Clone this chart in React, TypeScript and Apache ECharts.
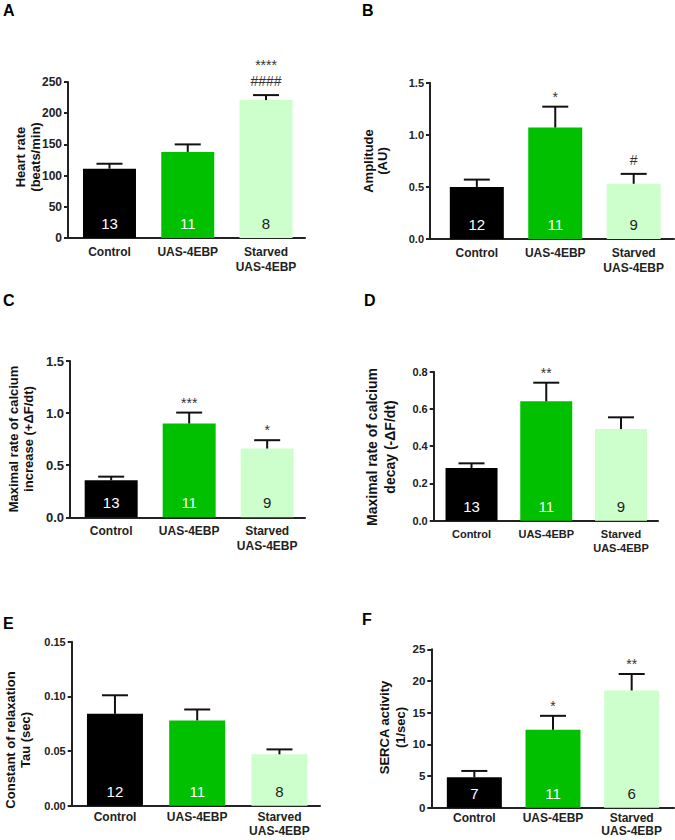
import React, { useEffect, useRef } from "react";
import * as echarts from "echarts";

// ---------- data ----------
const categories = ["Control", "UAS-4EBP", "Starved\nUAS-4EBP"];

const heartRate = [111, 138, 221];
const heartRateErr = [8, 12, 8];
const heartRateN = [13, 11, 8];
const heartRateSig = ["", "", "****\n####"];
const heartRateTicks = [0, 50, 100, 150, 200, 250];

const amplitude = [0.5, 1.07, 0.53];
const amplitudeErr = [0.07, 0.2, 0.095];
const amplitudeN = [12, 11, 9];
const amplitudeSig = ["", "*", "#"];
const amplitudeTicks = [0, 0.5, 1.0, 1.5];

const caIncrease = [0.355, 0.9, 0.66];
const caIncreaseErr = [0.035, 0.105, 0.08];
const caIncreaseN = [13, 11, 9];
const caIncreaseSig = ["", "***", "*"];
const caIncreaseTicks = [0, 0.5, 1.0, 1.5];

const caDecay = [0.283, 0.641, 0.492];
const caDecayErr = [0.025, 0.1, 0.063];
const caDecayN = [13, 11, 9];
const caDecaySig = ["", "**", ""];
const caDecayTicks = [0, 0.2, 0.4, 0.6, 0.8];

const tau = [0.084, 0.078, 0.047];
const tauErr = [0.017, 0.01, 0.0045];
const tauN = [12, 11, 8];
const tauSig = ["", "", ""];
const tauTicks = [0, 0.05, 0.1, 0.15];

const serca = [4.8, 12.3, 18.5];
const sercaErr = [1.0, 2.2, 2.6];
const sercaN = [7, 11, 6];
const sercaSig = ["", "*", "**"];
const sercaTicks = [0, 5, 10, 15, 20, 25];

// ---------- styles ----------
const FONT = "Arial, 'Liberation Sans', Helvetica, sans-serif";
const barColors = ["#000000", "#00c000", "#ccffcc"];
const nColors = ["#ffffff", "#ffffff", "#222222"];
const AXIS = "#222222";

type Panel = {
  letter: string;
  letterPos: [number, number];
  grid: { left: number; top: number; width: number; height: number };
  xMin: number;
  xMax: number;
  barWidth: number;
  ticks: number[];
  decimals: number;
  tickFont: number;
  catFont: number;
  catLH: number;
  catMargin: number;
  name: string;
  namePos: [number, number];
  nameLH: number;
  nameFont: number;
  values: number[];
  errs: number[];
  ns: number[];
  sig: string[];
};

const panels: Panel[] = [
  {
    letter: "A", letterPos: [3, 2.5],
    grid: { left: 68, top: 82, width: 237, height: 156 },
    xMin: -0.53, xMax: 2.498, barWidth: 53,
    ticks: heartRateTicks, decimals: 0, tickFont: 12, catFont: 12, catLH: 15, catMargin: 6,
    name: "Heart rate\n(beats/min)", namePos: [27.5, 157], nameLH: 15, nameFont: 13,
    values: heartRate, errs: heartRateErr, ns: heartRateN, sig: heartRateSig,
  },
  {
    letter: "B", letterPos: [362, 2.5],
    grid: { left: 430, top: 82.7, width: 244, height: 156.3 },
    xMin: -0.597, xMax: 2.514, barWidth: 54,
    ticks: amplitudeTicks, decimals: 1, tickFont: 11, catFont: 12, catLH: 15, catMargin: 6,
    name: "Amplitude\n(AU)", namePos: [375.5, 161], nameLH: 13.5, nameFont: 13,
    values: amplitude, errs: amplitudeErr, ns: amplitudeN, sig: amplitudeSig,
  },
  {
    letter: "C", letterPos: [3, 292],
    grid: { left: 70, top: 361, width: 235, height: 156.3 },
    xMin: -0.528, xMax: 2.485, barWidth: 53,
    ticks: caIncreaseTicks, decimals: 1, tickFont: 13, catFont: 12, catLH: 15, catMargin: 6,
    name: "Maximal rate of calcium\nincrease (+ΔF/dt)", namePos: [20.5, 439], nameLH: 15, nameFont: 13,
    values: caIncrease, errs: caIncreaseErr, ns: caIncreaseN, sig: caIncreaseSig,
  },
  {
    letter: "D", letterPos: [364, 292],
    grid: { left: 433.7, top: 371.7, width: 224.3, height: 149 },
    xMin: -0.506, xMax: 2.495, barWidth: 52,
    ticks: caDecayTicks, decimals: 1, tickFont: 11, catFont: 11, catLH: 14, catMargin: 6,
    name: "Maximal rate of calcium\ndecay (-ΔF/dt)", namePos: [381, 447], nameLH: 18, nameFont: 14,
    values: caDecay, errs: caDecayErr, ns: caDecayN, sig: caDecaySig,
  },
  {
    letter: "E", letterPos: [3, 615.5],
    grid: { left: 71.7, top: 641.7, width: 248.3, height: 164 },
    xMin: -0.526, xMax: 2.493, barWidth: 56,
    ticks: tauTicks, decimals: 2, tickFont: 11, catFont: 12, catLH: 13.5, catMargin: 5,
    name: "Constant of relaxation\nTau (sec)", namePos: [17.5, 740], nameLH: 15, nameFont: 13,
    values: tau, errs: tauErr, ns: tauN, sig: tauSig,
  },
  {
    letter: "F", letterPos: [362, 611.5],
    grid: { left: 431.3, top: 649.3, width: 242.7, height: 158.4 },
    xMin: -0.547, xMax: 2.538, barWidth: 55,
    ticks: sercaTicks, decimals: 0, tickFont: 11.5, catFont: 12, catLH: 13, catMargin: 4,
    name: "SERCA activity\n(1/sec)", namePos: [392, 727.5], nameLH: 16, nameFont: 13,
    values: serca, errs: sercaErr, ns: sercaN, sig: sercaSig,
  },
];

function buildOption() {
  const grids: any[] = [];
  const xAxes: any[] = [];
  const yAxes: any[] = [];
  const series: any[] = [];
  const graphics: any[] = [];

  panels.forEach((p, i) => {
    grids.push({ ...p.grid, containLabel: false, outerBoundsMode: "none" });
    xAxes.push({
      type: "value",
      gridIndex: i,
      min: p.xMin,
      max: p.xMax,
      splitLine: { show: false },
      axisTick: { show: false },
      axisLine: { show: true, onZero: false, lineStyle: { color: AXIS, width: 2 } },
      axisLabel: {
        show: true,
        customValues: [0, 1, 2],
        formatter: (v: number) => categories[Math.round(v)] ?? "",
        color: "#222",
        fontFamily: FONT,
        fontWeight: "bold",
        fontSize: p.catFont,
        lineHeight: p.catLH,
        margin: p.catMargin,
      },
    });
    const step = p.ticks[1] - p.ticks[0];
    yAxes.push({
      type: "value",
      gridIndex: i,
      min: p.ticks[0],
      max: p.ticks[p.ticks.length - 1],
      interval: step,
      splitLine: { show: false },
      axisLine: { show: true, onZero: false, lineStyle: { color: AXIS, width: 2 } },
      axisTick: { show: true, inside: false, length: 4, lineStyle: { color: AXIS, width: 2 } },
      axisLabel: {
        color: "#222",
        fontFamily: FONT,
        fontWeight: "bold",
        fontSize: p.tickFont,
        margin: 6,
        formatter: (v: number) => v.toFixed(p.decimals),
      },
    });

    series.push({
      type: "bar",
      xAxisIndex: i,
      yAxisIndex: i,
      barWidth: p.barWidth,
      data: p.values.map((v, k) => ({
        value: [k, v],
        itemStyle: { color: barColors[k] },
        label: { color: nColors[k] },
      })),
      label: {
        show: true,
        position: "insideBottom",
        distance: 7,
        fontFamily: FONT,
        fontSize: 15,
        formatter: (params: any) => String(p.ns[params.dataIndex]),
      },
      emphasis: { disabled: true },
    });

    series.push({
      type: "custom",
      xAxisIndex: i,
      yAxisIndex: i,
      clip: false,
      z: 5,
      encode: { x: 0, y: 1 },
      data: p.values.map((v, k) => [k, v, p.errs[k]]),
      renderItem: (params: any, api: any) => {
        const x = api.value(0);
        const v = api.value(1);
        const e = api.value(2);
        const p0 = api.coord([x, v]);
        const p1 = api.coord([x, v + e]);
        const children: any[] = [
          {
            type: "line",
            shape: { x1: p0[0], y1: p0[1], x2: p1[0], y2: p1[1] },
            style: { stroke: "#111", lineWidth: 2 },
          },
          {
            type: "line",
            shape: { x1: p1[0] - 13, y1: p1[1], x2: p1[0] + 13, y2: p1[1] },
            style: { stroke: "#111", lineWidth: 2 },
          },
        ];
        const s = p.sig[params.dataIndex];
        if (s) {
          const lines = s.split("\n");
          const last = lines[lines.length - 1];
          const gap = last.indexOf("#") >= 0 ? 6 : 2;
          children.push({
            type: "text",
            x: p1[0],
            y: p1[1] - gap,
            style: {
              text: s,
              fontFamily: FONT,
              fontSize: 14,
              lineHeight: 16,
              fill: "#333",
              align: "center",
              verticalAlign: "bottom",
              textAlign: "center",
              textVerticalAlign: "bottom",
            },
          });
        }
        return { type: "group", children };
      },
    });

    graphics.push({
      type: "text",
      x: p.letterPos[0],
      y: p.letterPos[1],
      style: {
        text: p.letter,
        fontFamily: FONT,
        fontWeight: "bold",
        fontSize: 16,
        fill: "#000",
        align: "left",
        verticalAlign: "top",
        textAlign: "left",
        textVerticalAlign: "top",
      },
    });
    graphics.push({
      type: "text",
      x: p.namePos[0],
      y: p.namePos[1],
      rotation: Math.PI / 2,
      style: {
        text: p.name,
        fontFamily: FONT,
        fontWeight: "bold",
        fontSize: p.nameFont,
        lineHeight: p.nameLH,
        fill: "#111",
        align: "center",
        verticalAlign: "middle",
        textAlign: "center",
        textVerticalAlign: "middle",
      },
    });
  });

  return {
    animation: false,
    backgroundColor: "#ffffff",
    grid: grids,
    xAxis: xAxes,
    yAxis: yAxes,
    series,
    graphic: { elements: graphics },
  };
}

export default function App() {
  const ref = useRef<HTMLDivElement>(null);
  useEffect(() => {
    if (!ref.current) return;
    const chart = echarts.init(ref.current, undefined, { renderer: "svg" });
    chart.setOption(buildOption() as any);
    return () => chart.dispose();
  }, []);
  return (
    <div
      ref={ref}
      style={{ position: "absolute", left: 0, top: 0, width: 675, height: 840 }}
    />
  );
}
